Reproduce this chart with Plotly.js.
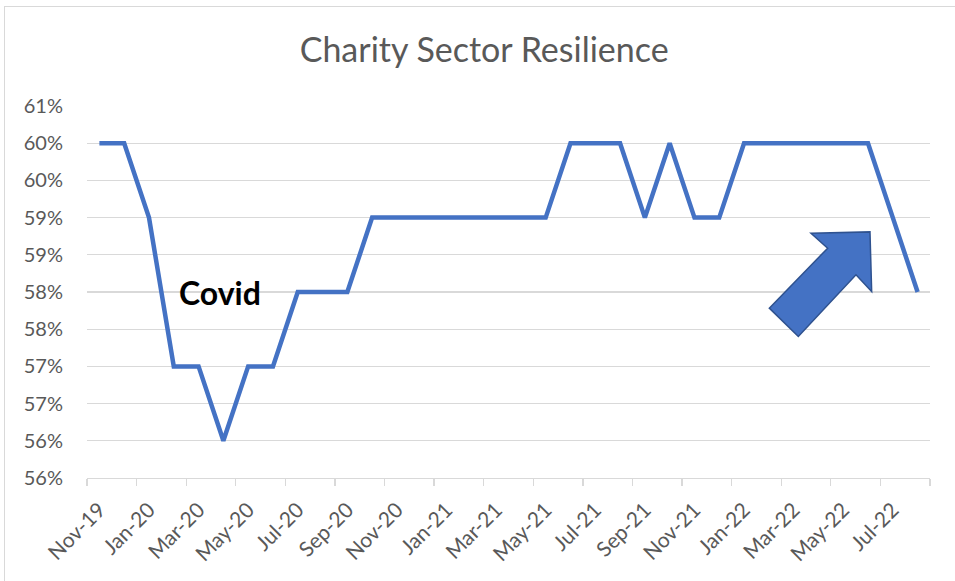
<!DOCTYPE html>
<html>
<head>
<meta charset="utf-8">
<script src="https://cdn.plot.ly/plotly-3.0.1.min.js"></script>
<style>
  html, body { margin: 0; padding: 0; background: #fff; overflow: hidden; }
  #chart { position: absolute; left: 0; top: 0; width: 955px; height: 581px; }
  #frame { position: absolute; left: 4px; top: 6px; width: 970px; height: 600px;
           border: 1px solid #d9d9d9; pointer-events: none; }
</style>
</head>
<body>
<div id="chart"></div>
<div id="frame"></div>
<script>
// ---- data ----
const months = ['Nov-19','Dec-19','Jan-20','Feb-20','Mar-20','Apr-20','May-20','Jun-20',
  'Jul-20','Aug-20','Sep-20','Oct-20','Nov-20','Dec-20','Jan-21','Feb-21','Mar-21','Apr-21',
  'May-21','Jun-21','Jul-21','Aug-21','Sep-21','Oct-21','Nov-21','Dec-21','Jan-22','Feb-22',
  'Mar-22','Apr-22','May-22','Jun-22','Jul-22','Aug-22'];
const resilience = [60,60,59,57,57,56,57,57,58,58,58,59,59,59,59,59,59,59,59,
  60,60,60,59,60,59,59,60,60,60,60,60,60,59,58];
const yTickVals = [55.5,56,56.5,57,57.5,58,58.5,59,59.5,60,60.5];
const yTickText = ['56%','56%','57%','57%','58%','58%','59%','59%','60%','60%','61%'];
const xTickLabels = months.filter((m, i) => i % 2 === 0);
const chartTitle = 'Charity Sector Resilience';
const noteText = 'Covid';

const font = 'Lato, "Open Sans", sans-serif';
const grey = '#595959';

const traces = [
  {
    type: 'scatter', mode: 'lines',
    x: months, y: resilience,
    line: { color: '#4472C4', width: 4.5 },
    hoverinfo: 'x+y', showlegend: false
  },
  { type: 'scatter', mode: 'lines', x: [], y: [], xaxis: 'x2', yaxis: 'y',
    showlegend: false, hoverinfo: 'skip' }
];

const layout = {
  width: 955, height: 581,
  margin: { l: 87, r: 25, t: 106, b: 103 },
  paper_bgcolor: 'rgba(0,0,0,0)', plot_bgcolor: '#fff',
  showlegend: false,
  title: {
    text: chartTitle,
    font: { family: font, size: 34, color: grey },
    x: 0.507, xanchor: 'center', xref: 'container',
    y: 0.914, yanchor: 'middle', yref: 'container'
  },
  xaxis: {
    type: 'category', range: [-0.5, 33.5],
    tickvals: xTickLabels, ticktext: xTickLabels,
    tickangle: -45, ticks: '', ticklabelstandoff: 10,
    tickfont: { family: font, size: 21, color: grey },
    showgrid: false, zeroline: false,
    showline: true, linecolor: '#d9d9d9', linewidth: 1.3,
    fixedrange: true
  },
  xaxis2: {
    type: 'linear', overlaying: 'x', anchor: 'y', side: 'bottom',
    range: [-0.5, 33.5], tick0: -0.5, dtick: 2,
    ticks: 'outside', ticklen: 7, tickwidth: 1.3, tickcolor: '#d9d9d9',
    showticklabels: false, showgrid: false, zeroline: false, showline: false,
    fixedrange: true
  },
  yaxis: {
    range: [55.5, 60.5],
    tickvals: yTickVals, ticktext: yTickText,
    tickfont: { family: font, size: 20, color: grey },
    ticks: '', ticklabelstandoff: 23,
    gridcolor: '#d9d9d9', gridwidth: 1.3,
    showline: false, zeroline: false, fixedrange: true
  },
  annotations: [{
    text: '<b>' + noteText + '</b>',
    xref: 'paper', yref: 'paper', x: 0.1578, y: 0.4977,
    xanchor: 'center', yanchor: 'middle', showarrow: false,
    font: { family: font, size: 32, color: '#000' }
  }],
  shapes: [{
    type: 'path', xref: 'paper', yref: 'paper',
    path: 'M0.8588,0.6581 L0.9288,0.6616 L0.9308,0.5012 L0.9122,0.5461 L0.8438,0.3803 L0.8094,0.4566 L0.8786,0.6178 Z',
    fillcolor: '#4472C4', line: { color: '#2F528F', width: 1.5 }
  }]
};

Plotly.newPlot('chart', traces, layout, { displayModeBar: false, staticPlot: true });
</script>
</body>
</html>
